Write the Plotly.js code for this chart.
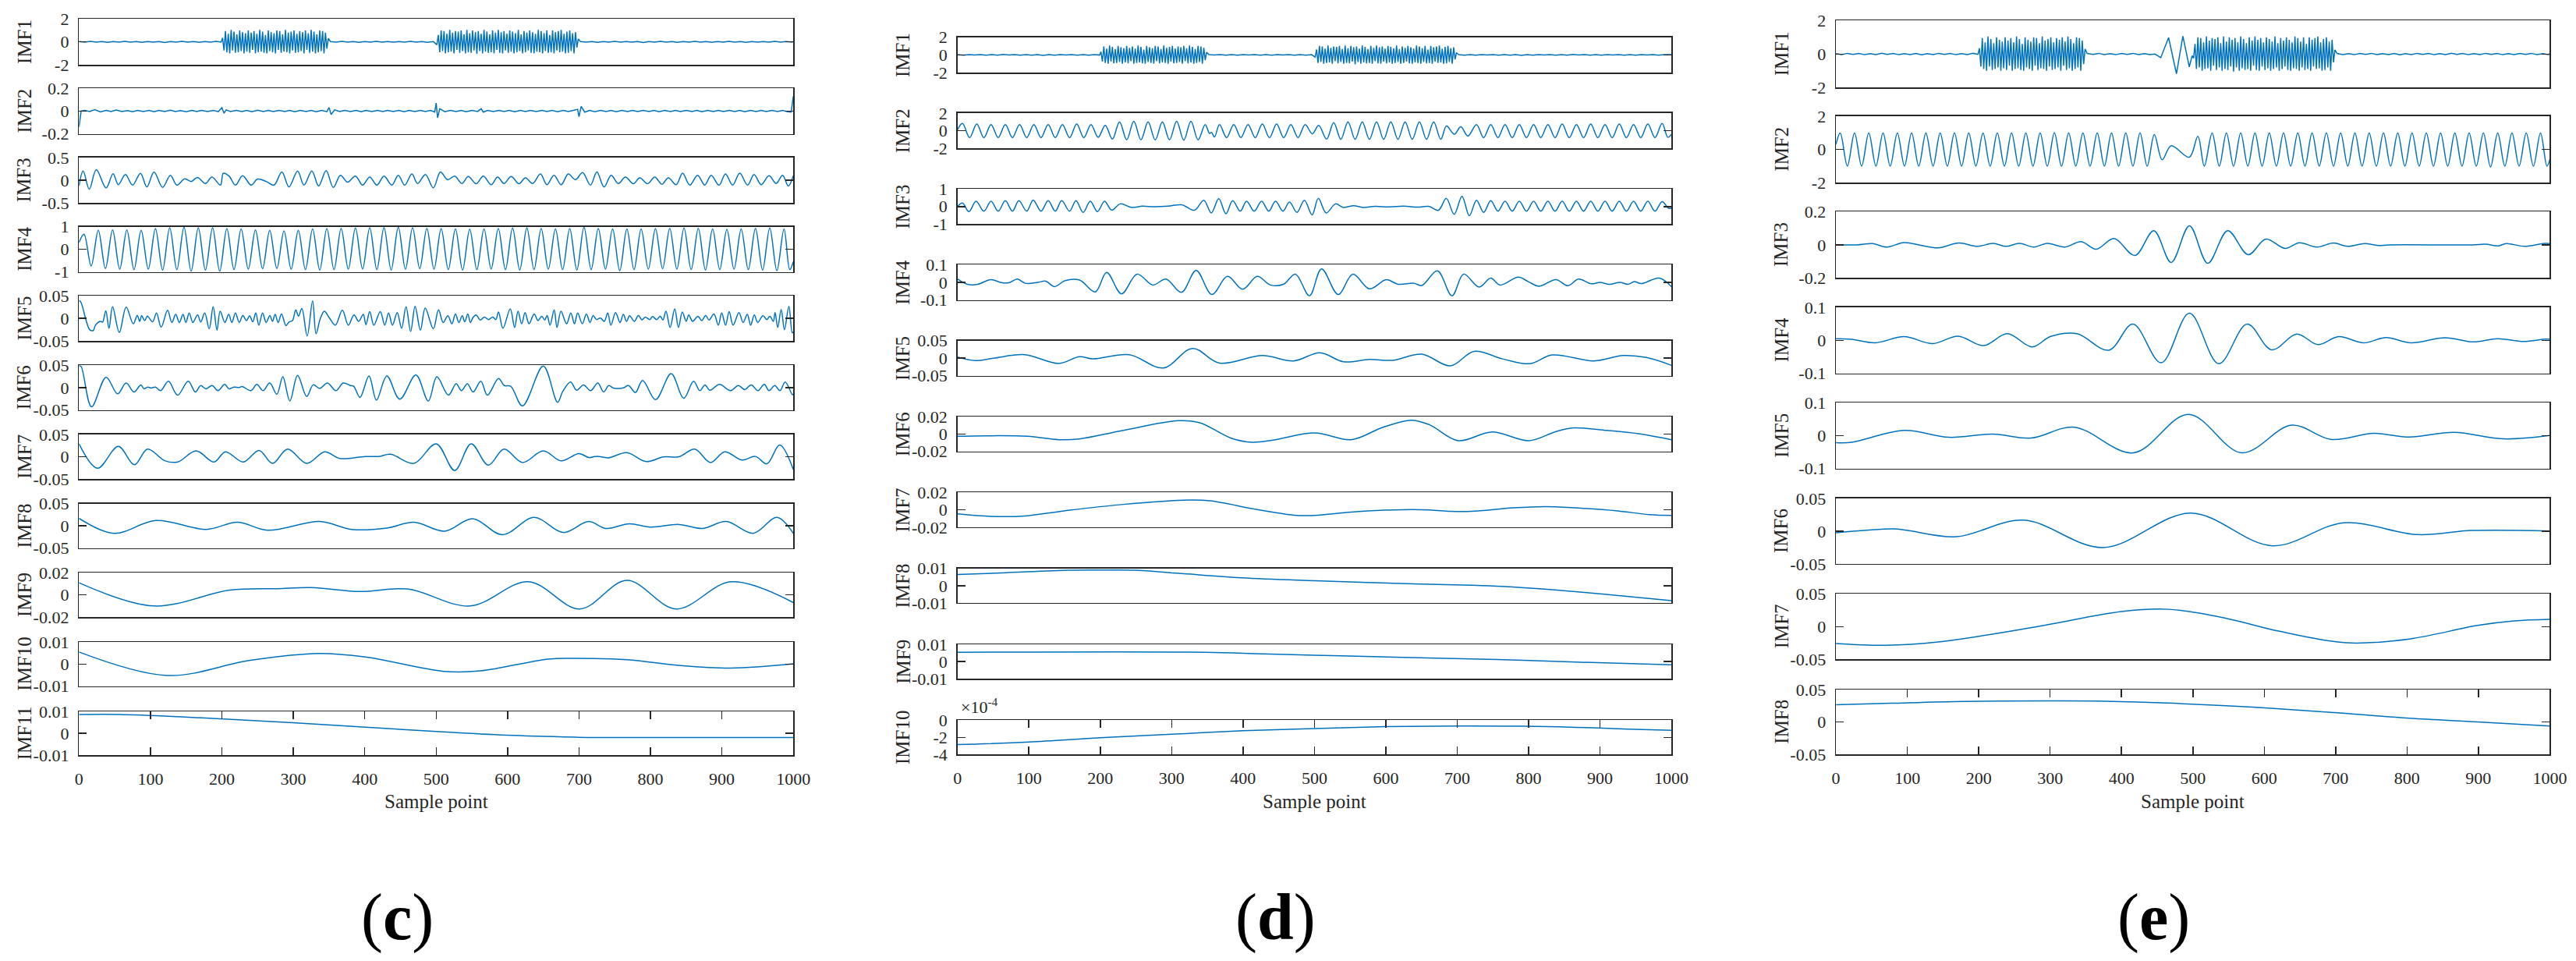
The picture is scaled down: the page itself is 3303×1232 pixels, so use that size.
<!DOCTYPE html>
<html>
<head>
<meta charset="utf-8">
<script src="https://cdn.plot.ly/plotly-3.0.1.min.js"></script>
<style>
html, body { margin: 0; padding: 0; background: #fff; }
#chart { width: 3303px; height: 1232px; }
</style>
</head>
<body>
<div id="chart"></div>
<script>
// all series are [sample point, value] pairs

// IMF1 pieces shared by (c), (d), (e): quiet stretches and the two bursts
var quiet1 = [[0,0.02],[8,-0.03],[16,0.04],[24,-0.02],[32,0.03],[40,-0.04],[48,0.02],[56,-0.03],[64,0.05],[72,-0.02],[80,0.03],[88,-0.04],[96,0.02],[104,-0.03],[112,0.03],[120,-0.05],[128,0.02],[136,-0.03],[144,0.04],[152,-0.02],[160,0.03],[168,-0.04],[176,0.02],[184,-0.03],[192,0.04],[199,-0.02]];
var burstA = [[201,0.35],[203,-0.75],[205,0.95],[207,-0.9],[209,0.7],[211,-1.0],[213,1.05],[215,-0.75],[217,0.9],[219,-0.95],[221,0.65],[223,-0.9],[225,1.0],[227,-0.8],[229,0.85],[231,-1.0],[233,0.75],[235,-0.85],[237,1.0],[239,-0.95],[241,0.8],[243,-0.7],[245,0.95],[247,-1.0],[249,0.7],[251,-0.9],[253,1.05],[255,-0.85],[257,0.9],[259,-0.95],[261,0.6],[263,-1.0],[265,1.0],[267,-0.8],[269,0.85],[271,-0.9],[273,0.75],[275,-1.0],[277,1.0],[279,-0.7],[281,0.95],[283,-0.95],[285,0.65],[287,-0.85],[289,1.05],[291,-0.9],[293,0.8],[295,-1.0],[297,0.9],[299,-0.75],[301,1.0],[303,-0.95],[305,0.7],[307,-0.9],[309,0.95],[311,-0.8],[313,0.85],[315,-1.0],[317,1.0],[319,-0.7],[321,0.75],[323,-0.95],[325,1.05],[327,-0.85],[329,0.9],[331,-1.0],[333,0.65],[335,-0.9],[337,1.0],[339,-0.8],[341,0.95],[343,-1.0],[345,0.8],[347,-0.6],[349,0.3]];
var quiet2 = [[352,0.03],[360,-0.02],[368,0.04],[376,-0.03],[384,0.02],[392,-0.04],[400,0.03],[408,-0.02],[416,0.04],[424,-0.03],[432,0.02],[440,-0.03],[448,0.03],[456,-0.02],[464,0.04],[472,-0.03],[480,0.02],[488,-0.04],[496,0.02]];
var burstB = [[501,-0.25],[503,0.6],[505,-0.9],[507,1.0],[509,-0.8],[511,0.95],[513,-1.0],[515,0.7],[517,-0.9],[519,1.05],
  [521,-0.85],[523,0.8],[525,-1.0],[527,0.95],[529,-0.7],[531,0.9],[533,-0.95],[535,1.0],[537,-0.8],[539,0.65],
  [541,-1.0],[543,1.05],[545,-0.9],[547,0.75],[549,-0.95],[551,1.0],[553,-0.75],[555,0.85],[557,-1.05],[559,0.95],
  [561,-0.8],[563,0.7],[565,-1.0],[567,1.05],[569,-0.85],[571,0.9],[573,-0.95],[575,0.65],[577,-0.9],[579,1.0],
  [581,-1.0],[583,0.8],[585,-0.7],[587,1.05],[589,-0.95],[591,0.85],[593,-1.0],[595,0.95],[597,-0.75],[599,0.7],
  [601,-0.95],[603,1.0],[605,-0.85],[607,0.9],[609,-1.0],[611,0.75],[613,-0.9],[615,1.05],[617,-0.8],[619,0.65],
  [621,-1.0],[623,0.95],[625,-0.9],[627,0.8],[629,-0.75],[631,1.0],[633,-0.95],[635,0.85],[637,-1.0],[639,0.7],
  [641,-0.85],[643,1.05],[645,-0.9],[647,0.95],[649,-1.0],[651,0.75],[653,-0.8],[655,1.0],[657,-0.95],[659,0.6],
  [661,-0.9],[663,1.0],[665,-1.0],[667,0.85],[669,-0.75],[671,0.95],[673,-0.9],[675,1.05],[677,-0.85],[679,0.7],
  [681,-1.0],[683,0.9],[685,-0.95],[687,1.0],[689,-0.8],[691,0.75],[693,-1.0],[695,0.85],[697,-0.5],[699,0.25]];
var quiet3 = [[702,0.03],[710,-0.03],[718,0.02],[726,-0.04],[734,0.03],[742,-0.02],[750,0.04],[758,-0.03],[766,0.02],[774,-0.03],[782,0.03],[790,-0.05],[798,0.02],[806,-0.03],[814,0.04],[822,-0.02],[830,0.03],[838,-0.04],[846,0.02],[854,-0.03],[862,0.05],[870,-0.02],[878,0.03],[886,-0.04],[894,0.02],[902,-0.03],[910,0.04],[918,-0.02],[926,0.03],[934,-0.04],[942,0.02],[950,-0.03],[958,0.03],[966,-0.02],[974,0.04],[982,-0.03],[990,0.02],[998,-0.03],[1000,0.02]];
// the slow wave just before the second burst in (e)
var waveE = [[447,0],[455,-0.22],[466,0.98],[477,-1.18],[486,1.07],[495,-0.77],[499,-0.1]];

// ---- panel (c) ----
var imf2c = [[0,-0.14],[3,0],[8,0.005],[15,-0.004],[22,0.012],[30,-0.008],[38,0.006],[45,-0.004],[52,0.008],[60,-0.005],[68,0.004],[75,-0.006],[82,0.006],[90,-0.004],[98,0.005],[105,-0.006],[112,0.006],[120,-0.004],[128,0.007],[135,-0.005],[142,0.004],[150,-0.006],[158,0.005],[165,-0.004],[172,0.006],[180,-0.005],[188,0.005],[195,-0.006],[200,0.03],[203,-0.02],[206,0.01],[212,-0.005],[220,0.006],[228,-0.004],[235,0.005],[242,-0.006],[250,0.007],[258,-0.004],[265,0.005],[272,-0.005],[280,0.006],[288,-0.004],[295,0.005],[302,-0.006],[310,0.006],[318,-0.004],[325,0.005],[332,-0.006],[340,0.006],[347,-0.006],[350,0.03],[353,-0.03],[358,0.01],[365,-0.005],[372,0.006],[380,-0.004],[388,0.005],[395,-0.006],[402,0.006],[410,-0.004],[418,0.005],[425,-0.005],[432,0.006],[440,-0.004],[448,0.005],[455,-0.006],[462,0.005],[470,-0.004],[478,0.006],[485,-0.005],[492,0.005],[498,-0.01],[500,0.07],[502,-0.06],[505,0.02],[512,-0.006],[520,0.006],[528,-0.004],[535,0.005],[542,-0.006],[550,0.006],[558,-0.004],[563,0.02],[566,-0.01],[572,0.005],[580,-0.005],[588,0.006],[595,-0.004],[602,0.005],[610,-0.006],[618,0.006],[625,-0.004],[632,0.005],[640,-0.005],[648,0.006],[655,-0.004],[662,0.005],[670,-0.006],[678,0.006],[685,-0.004],[692,0.005],[698,0.015],[700,-0.05],[703,0.04],[708,-0.01],[715,0.005],[722,-0.006],[730,0.006],[738,-0.004],[745,0.005],[752,-0.006],[760,0.006],[768,-0.004],[775,0.005],[782,-0.005],[790,0.006],[798,-0.004],[805,0.005],[812,-0.006],[820,0.006],[828,-0.004],[835,0.005],[842,-0.005],[850,0.006],[858,-0.004],[865,0.005],[872,-0.006],[880,0.006],[888,-0.004],[895,0.005],[902,-0.005],[910,0.006],[918,-0.004],[925,0.005],[932,-0.006],[940,0.006],[948,-0.004],[955,0.005],[962,-0.005],[970,0.006],[978,-0.004],[985,0.005],[992,-0.006],[997,-0.01],[1000,0.13]];
var imf3c = [[0,-0.13],[5.8,0.2],[14.4,-0.2],[24.2,0.23],[37.9,-0.17],[47.7,0.14],[55,-0.1],[65,0.125],[75,-0.11],[86,0.15],[95,-0.15],[105,0.18],[117,-0.16],[128,0.108],[137,-0.11],[148,0.028],[157,-0.03],[166,0.057],[177,-0.074],[186,0.068],[198,-0.11],[202,0.15],[210,0.09],[219,-0.11],[229,0.097],[241,-0.11],[250,0.023],[262,-0.03],[273,-0.11],[284,0.18],[294,-0.15],[306,0.2],[315,-0.11],[326,0.2],[335.5,-0.13],[346,0.21],[356,-0.16],[366,0.108],[376,-0.045],[387,0.09],[397,-0.11],[407,0.068],[417,-0.11],[427,0.09],[438,-0.11],[447,0.108],[456,-0.11],[466,0.136],[474,-0.074],[485,0.125],[496,-0.17],[506,0.18],[516,0.01],[526,0.09],[536,-0.074],[545,0.08],[556,-0.08],[566,0.09],[577,-0.1],[586,0.068],[595,-0.074],[605,0.08],[616,-0.08],[625,0.05],[635,-0.074],[646,0.136],[655,-0.1],[665,0.108],[675,-0.1],[685,0.136],[695,0.01],[705,0.165],[716,-0.11],[725,0.18],[735,-0.15],[745,0.108],[755,-0.074],[765,0.068],[776,-0.08],[785,0.05],[796,-0.08],[806,0.068],[816,-0.09],[825,0.05],[836,-0.1],[845,0.153],[855,-0.11],[866,0.108],[876,-0.11],[885,0.108],[896,-0.11],[905,0.136],[915,-0.11],[925,0.153],[936,-0.11],[945,0.125],[955,-0.1],[966,0.097],[976,-0.074],[985,0.108],[993,-0.13],[1000,0.097]];
var imf4c = [[0,0.3],
  [7,0.67],[17,-0.74],[27,0.84],[37,-0.85],[47,0.86],[57,-0.88],[67,0.86],[77,-0.9],[87,0.84],[97,-0.88],
  [107,0.92],[117,-0.92],[127,0.95],[137,-0.9],[147,0.98],[157,-0.97],[167,0.95],[177,-0.92],[187,0.95],[197,-0.97],
  [207,0.92],[217,-0.9],[227,0.9],[237,-0.88],[247,0.86],[257,-0.86],[267,0.84],[277,-0.85],[287,0.81],[297,-0.88],
  [307,0.84],[317,-0.9],[327,0.9],[337,-0.92],[347,0.92],[357,-0.9],[367,0.93],[377,-0.88],[387,0.94],[397,-0.87],
  [407,0.95],[417,-0.9],[427,0.96],[437,-0.92],[447,0.98],[457,-0.88],[467,0.95],[477,-0.86],[487,0.93],[497,-0.88],
  [507,0.92],[517,-0.9],[527,0.9],[537,-0.92],[547,0.89],[557,-0.9],[567,0.9],[577,-0.88],[587,0.92],[597,-0.9],
  [607,0.94],[617,-0.92],[627,0.95],[637,-0.9],[647,0.92],[657,-0.88],[667,0.9],[677,-0.9],[687,0.92],[697,-0.92],
  [707,0.98],[717,-0.9],[727,0.92],[737,-0.88],[747,0.9],[757,-0.95],[767,0.9],[777,-0.9],[787,0.9],[797,-0.88],
  [807,0.92],[817,-0.86],[827,0.93],[837,-0.88],[847,0.94],[857,-0.9],[867,0.93],[877,-0.92],[887,0.9],[897,-0.9],
  [907,0.88],[917,-0.88],[927,0.9],[937,-0.9],[947,0.93],[957,-0.92],[967,0.94],[977,-0.95],[987,0.9],[995,-0.9],
  [1000,-0.55]];
var imf5c = [[0,0.039],[2,0.038],[15,-0.025],[20,-0.027],[23,-0.015],[29.5,-0.0065],[33,-0.008],[37.5,0.017],[42,-0.022],[47,0.026],[56.4,-0.031],[66,0.025],[76,-0.012],[81.5,0.0065],[85,-0.0065],[87.7,0.006],[92,-0.005],[95.7,0.005],[103,-0.0076],[108.5,0.012],[115,-0.0195],[124,0.018],[130,-0.009],[135.4,0.009],[140.5,-0.009],[145.6,0.009],[149.6,-0.009],[154.3,0.012],[159.4,-0.009],[166,0.0076],[170.4,-0.008],[176,0.012],[182.3,-0.023],[187.8,0.026],[193.2,-0.026],[197.6,0.016],[204.2,-0.009],[209.6,0.009],[214,-0.009],[219,0.012],[224.3,-0.009],[229.4,0.0065],[234.4,-0.005],[238.8,0.006],[243.2,-0.0076],[247.5,0.012],[251.8,-0.015],[257,0.012],[262,-0.009],[267.2,0.0065],[270.8,-0.0065],[274.6,0.009],[278.8,-0.009],[283.5,0.01],[289.7,-0.016],[294,-0.008],[298.8,-0.005],[303.5,0.019],[307.2,0.005],[312,0.022],[319.4,-0.039],[327,0.039],[331.9,-0.034],[337.7,-0.001],[343.5,0.016],[349.8,0.003],[358.8,-0.015],[368.7,0.018],[377,-0.015],[385,0.0076],[391.5,-0.0065],[398,0.009],[401.7,-0.014],[407,0.015],[412.8,-0.015],[421.8,0.015],[428,-0.015],[433.4,0.012],[438.8,-0.015],[445.5,0.013],[451.6,-0.022],[457.8,0.026],[464.3,-0.029],[470.5,0.027],[478,-0.026],[484.7,0.023],[496,-0.023],[503.3,0.019],[509.8,-0.009],[516.4,0.006],[522,-0.012],[527,0.01],[531.8,-0.009],[536.5,0.006],[540,-0.0076],[544.3,0.01],[548,-0.009],[551.6,0.002],[556,0.0076],[561.7,-0.0036],[567.5,0.0031],[573.3,-0.0025],[579.2,0.0031],[583.5,-0.0025],[587.3,0.014],[593.5,-0.022],[603.7,0.021],[609.8,-0.02],[614.6,0.016],[619.7,-0.012],[624.5,0.013],[630,-0.012],[637.2,0.01],[642.6,-0.0048],[647.8,0.0048],[652.1,-0.0036],[655.4,0.0065],[659.4,-0.015],[665.2,0.019],[669.2,-0.02],[674.7,0.016],[682.6,-0.012],[688.5,0.012],[693.6,-0.012],[698.1,0.012],[704.6,-0.012],[710.3,0.01],[715.4,-0.009],[719.8,0.0065],[724.5,-0.0025],[730,0.0009],[735.4,-0.0065],[740.2,0.012],[744.6,-0.015],[751.2,0.013],[757.4,-0.009],[762.1,0.009],[766.5,-0.0065],[770.8,0.006],[777.4,-0.0065],[783.2,0.0065],[788.3,-0.0036],[792.6,0.0031],[799.2,-0.0025],[802.8,0.0042],[808.6,-0.0025],[813.7,0.0048],[817.4,-0.0036],[821.7,0.016],[827.5,-0.02],[834,0.021],[839.2,-0.02],[844.6,0.014],[850,-0.0065],[853.6,0.0076],[859.1,-0.0065],[866.4,0.0048],[871.8,-0.0048],[877.3,0.0065],[882,-0.0036],[888.9,0.01],[895,-0.015],[899.7,0.012],[905.2,-0.015],[910.2,0.015],[915.7,-0.015],[923.9,0.013],[929.7,-0.009],[935.6,0.009],[940.3,-0.015],[945.4,0.0076],[950.2,-0.009],[957.5,0.006],[963,-0.0025],[967.3,0.0048],[971.9,-0.0065],[974.5,0.013],[978.2,-0.02],[983,0.02],[987.6,-0.025],[993.8,0.027],[998.5,-0.032],[1000,-0.03]];
var imf6c = [[0,0.049],[3,0.047],[17.5,-0.043],[38,0.023],[54,-0.014],[66,0.01],[77,-0.01],[86.6,0.006],[91,-0.003],[96,0.001],[101,-0.001],[107,0.001],[114.3,-0.007],[125.2,0.014],[138,-0.017],[152.9,0.014],[163,-0.01],[170.4,0.0045],[177.7,-0.003],[186.3,0.0045],[194.4,-0.007],[204,0.007],[210,-0.003],[216.8,0.001],[224,0],[228.5,0.0023],[240.6,-0.007],[249,0.007],[257.7,-0.007],[267,0.01],[277,-0.015],[285.3,0.024],[295.2,-0.03],[306,0.027],[318.8,-0.02],[327.9,0.006],[337,-0.002],[347.9,0.01],[359.6,-0.007],[369.8,0.01],[380,0.0045],[384.5,0.003],[393.4,-0.022],[406,0.026],[416.4,-0.028],[431,0.026],[449,-0.026],[471.7,0.028],[489,-0.03],[501,0.024],[517.1,-0.017],[528,0.0085],[535.4,-0.007],[543.7,0.0085],[551.7,-0.01],[562.6,0.014],[571.7,-0.017],[587.3,0.02],[595.3,0.0045],[604.4,0.003],[620.9,-0.041],[650,0.048],[670,-0.033],[677.3,-0.0085],[688.2,0.0125],[696.6,-0.006],[706.4,0.006],[716.2,-0.007],[726.4,0.01],[734.4,-0.01],[741.7,0.0045],[748,-0.001],[762,-0.0006],[769.3,0.0045],[779,-0.011],[789,0.016],[807.2,-0.027],[829,0.031],[846.5,-0.024],[860.4,0.014],[869.1,-0.007],[876.4,0.006],[883,-0.006],[896.7,0.007],[912,-0.007],[923,0.0045],[932,-0.0045],[941.2,0.006],[950.3,-0.007],[959.4,0.007],[966,-0.007],[974,0.0045],[981.3,-0.007],[988.6,0.0125],[998.8,-0.016],[1000,-0.014]];
var imf7c = [[0,0.029],[26,-0.026],[55,0.023],[77.5,-0.018],[96,0.017],[120,-0.009],[138,-0.012],[164,0.013],[189,-0.012],[205,0.011],[230,-0.012],[252,0.014],[271,-0.015],[292,0.017],[319,-0.015],[344,0.011],[365,-0.004],[401,0.0005],[420,0.0005],[436,0.0056],[469,-0.015],[500,0.029],[526,-0.031],[549,0.029],[573,-0.019],[595,0.017],[621,-0.013],[650,0.013],[675,-0.0094],[700,0.0069],[714,-0.002],[725,0.001],[741,-0.0025],[767,0.009],[794,-0.011],[818,-0.0006],[840,0],[862,0.017],[884,-0.013],[904,0.011],[928,-0.0075],[947,0.0006],[963,-0.016],[981,0.026],[1000,-0.029]];
var imf8c = [[0,0.017],[49,-0.017],[107.5,0.012],[178,-0.008],[222,0.008],[264,-0.01],[337,0.0097],[381,-0.008],[431,-0.005],[469,0.008],[512,-0.012],[551,0.016],[593,-0.02],[637,0.019],[678,-0.015],[713.5,0.0097],[738,-0.006],[770.5,0.0047],[800,-0.003],[840,0.003],[873,-0.006],[906,0.0097],[944,-0.017],[977,0.019],[1000,-0.017]];
var imf9c = [[0,0.011],[105,-0.01],[211,0.0044],[277,0.0057],[325,0.0067],[394,0.0031],[460,0.0054],[547.5,-0.01],[629,0.012],[701,-0.0127],[767,0.0132],[836,-0.0127],[913,0.012],[1000,-0.0069]];
var imf10c = [[0,0.0055],[123.5,-0.0052],[240,0.0017],[335,0.0048],[401,0.0032],[511,-0.0033],[562,-0.0031],[657,0.0023],[694,0.0026],[767,0.002],[840,-0.0006],[913,-0.0018],[1000,0.0001]];
var imf11c = [[0,0.0086],[58,0.0086],[138,0.0076],[299,0.0048],[401,0.0028],[500,0.0008],[599,-0.0009],[694,-0.0018],[730,-0.002],[1000,-0.002]];

// ---- panel (d) ----
var imf2d = [[0,0.1],[7,0.81],[17,-0.78],[27,0.75],[37,-0.78],[47,0.69],[57,-0.78],[67,0.69],[77,-0.78],[87,0.69],[97,-0.78],[107,0.69],[117,-0.78],[127,0.69],[137,-0.78],[147,0.69],[157,-0.78],[167,0.75],[177,-0.78],[187,0.69],[197,-0.75],[207,0.6],[217,-0.95],[227,1.0],[237,-1.03],[247,1.06],[257,-1.03],[267,1.0],[277,-1.06],[287,1.0],[297,-1.03],[307,1.06],[317,-1.06],[327,1.06],[337,-1.03],[347,0.69],[353,-0.3],[356,-0.2],[360,-0.72],[367,0.69],[377,-0.78],[387,0.69],[397,-0.78],[407,0.69],[417,-0.78],[427,0.75],[437,-0.78],[447,0.75],[457,-0.78],[467,0.69],[477,-0.78],[487,0.69],[497,-0.34],[506,0.59],[517,-0.95],[527,0.91],[537,-0.97],[547,1.0],[557,-0.97],[567,1.0],[577,-0.97],[587,1.0],[597,-0.97],[607,1.0],[617,-0.97],[627,1.0],[637,-0.97],[647,1.0],[657,-0.97],[667,1.0],[677,-0.97],[685,0.53],[696,-0.4],[705,0.44],[715,-0.6],[727,0.69],[737,-0.78],[747,0.69],[757,-0.78],[767,0.69],[777,-0.78],[787,0.69],[797,-0.78],[807,0.69],[817,-0.78],[827,0.69],[837,-0.78],[847,0.75],[857,-0.78],[867,0.69],[877,-0.78],[887,0.75],[897,-0.78],[907,0.69],[917,-0.78],[927,0.75],[937,-0.78],[947,0.69],[957,-0.78],[967,0.75],[977,-0.78],[987,0.81],[995,-0.75],[1000,-0.4]];
var imf3d = [[0,0],[7,0.2],[16,-0.29],[26,0.3],[37,-0.26],[47,0.3],[57,-0.26],[67,0.33],[77,-0.26],[86,0.33],[97,-0.26],[106,0.37],[117,-0.26],[127,0.33],[137,-0.26],[146,0.33],[157,-0.26],[166,0.33],[176,-0.33],[186,0.3],[196,-0.29],[206,0.3],[216,-0.2],[228,0.15],[244,-0.05],[259,0.02],[275,-0.01],[295,0.02],[314,0.1],[332,-0.21],[345,0.36],[355.5,-0.36],[366,0.44],[376,-0.41],[385.5,0.33],[396,-0.26],[405,0.3],[415.5,-0.26],[426,0.3],[436,-0.26],[445.5,0.3],[456,-0.26],[465,0.26],[475.5,-0.33],[486,0.36],[496.7,-0.47],[505.5,0.46],[516.5,-0.36],[529.6,0.15],[540.6,-0.05],[555,0.05],[568,-0.05],[585,0.01],[605,-0.02],[625,0.02],[645,-0.03],[660,0.01],[673.7,-0.21],[684.7,0.46],[695.7,-0.44],[706.7,0.57],[717,-0.52],[727,0.36],[737,-0.33],[747,0.33],[757,-0.26],[767,0.3],[777,-0.26],[787,0.3],[797,-0.26],[807,0.3],[817,-0.26],[827,0.3],[837,-0.26],[847,0.3],[857,-0.26],[867,0.3],[877,-0.26],[887,0.3],[897,-0.26],[907,0.3],[917,-0.26],[927,0.3],[937,-0.26],[947,0.3],[957,-0.26],[967,0.3],[977,-0.26],[987,0.28],[996,-0.1],[1000,-0.1]];
var imf4d = [[0,0.019],[14,-0.011],[28.5,-0.011],[46.8,0.016],[61.4,-0.001],[72,-0.002],[84,0.019],[95,-0.005],[112.7,0],[123.6,0.007],[136,-0.024],[150.7,0.01],[171,0.013],[193,-0.054],[209,0.057],[229.7,-0.065],[251.6,0.047],[273.6,-0.015],[292,0.019],[313.8,-0.057],[334.3,0.068],[356.3,-0.069],[378.2,0.034],[399.4,-0.039],[420,0.034],[438.2,-0.015],[456.5,-0.011],[473.3,0.047],[493,-0.076],[510,0.077],[533.3,-0.069],[553.8,0.047],[577.2,-0.037],[600.6,0.015],[617.4,-0.011],[639.4,-0.005],[650.3,-0.018],[672.3,0.065],[692.7,-0.076],[708.9,0.047],[730.8,-0.027],[746.9,0.024],[760,-0.015],[785.7,0.03],[800,0.003],[815,-0.022],[838.3,0.016],[855.2,-0.019],[869.8,0.019],[888,-0.008],[900,0],[913,-0.011],[928,0],[939,-0.011],[948,0.004],[958,-0.007],[983,0.024],[1000,-0.024]];
var imf5d = [[0,0.0036],[24.9,-0.0068],[50.5,0],[94.4,0.01],[142,-0.015],[171,0.0044],[189.5,-0.002],[240.7,0.01],[288.2,-0.028],[329.2,0.028],[367.2,-0.014],[427.2,0.0076],[471,-0.0076],[507.7,0.0156],[540.6,-0.01],[577.2,-0.0036],[610,-0.006],[650.3,0.0116],[690.6,-0.022],[723.5,0.0196],[763.7,-0.002],[801.8,-0.0156],[833.2,0.0092],[891.7,-0.0076],[932,0.0076],[965,0.002],[1000,-0.0204]];
var imf6d = [[0,-0.0026],[39.5,-0.002],[98,-0.0026],[142,-0.0065],[171,-0.0056],[229.7,0.0038],[310,0.0153],[339.4,0.013],[383.3,-0.0047],[412.6,-0.0094],[441.8,-0.007],[500.4,0.0012],[551.6,-0.0065],[595.5,0.0076],[635.7,0.0159],[661.3,0.0106],[701.5,-0.0076],[749,0.0024],[800.3,-0.0076],[836.9,0.0024],[862.5,0.0071],[910,0.0041],[954,0.0003],[1000,-0.0065]];
var imf7d = [[0,-0.0046],[46.8,-0.0075],[94.4,-0.007],[149.2,-0.0012],[229.7,0.0061],[324.8,0.0113],[354,0.0104],[420,0.0003],[471,-0.0061],[500.4,-0.0064],[551.6,-0.0026],[610,0],[661.3,0],[690.6,-0.0017],[719.8,-0.0017],[778.3,0.0023],[822.2,0.0038],[866.1,0.0023],[924.7,-0.0012],[968.6,-0.0055],[1000,-0.0064]];
var imf8d = [[0,0.0065],[61.4,0.0074],[156.5,0.009],[207.8,0.0091],[248,0.009],[310,0.0072],[398,0.0046],[500.4,0.0029],[610,0.0014],[719.8,0.0003],[763.7,-0.0004],[829.6,-0.0022],[902.7,-0.0048],[1000,-0.0087]];
var imf9d = [[0,0.0054],[346.7,0.0054],[427.2,0.0045],[537,0.0033],[646.7,0.0022],[756.4,0.0012],[866.1,-0.0003],[1000,-0.0019]];
// IMF10 of (d) in units of 1e-4
var imf10d = [[0,-2.85],[100,-2.55],[200,-2.05],[300,-1.64],[400,-1.23],[500,-0.97],[600,-0.75],[700,-0.67],[793,-0.7],[866,-0.82],[939,-1.03],[1000,-1.18]];

// ---- panel (e) ----
var imf2e = [[0,0.3],[6,0.99],[16,-1.0],[26,0.99],[36,-1.0],[46,0.99],[56,-1.0],[66,0.99],[76,-1.0],[86,0.99],[96,-1.0],[106,0.99],[116,-1.0],[126,0.99],[136,-1.0],[146,0.99],[156,-1.0],[166,0.99],[176,-1.0],[186,0.99],[196,-1.0],[206,0.99],[216,-1.0],[226,0.99],[236,-1.0],[246,0.99],[256,-1.0],[266,0.99],[276,-1.0],[286,0.99],[296,-1.0],[306,1.0],[316,-1.0],[326,0.99],[336,-1.0],[346,0.99],[356,-1.0],[366,0.99],[376,-1.0],[386,0.99],[396,-1.0],[406,0.99],[416,-1.0],[426,0.99],[436,-1.0],[446,0.89],[457,-0.62],[469.5,0.22],[495,-0.47],[507,0.79],[516,-1.0],[527,0.99],[537,-1.0],[547,0.99],[557,-1.0],[567,0.99],[577,-1.0],[587,0.99],[597,-1.0],[607,0.99],[617,-1.0],[627,0.99],[637,-1.0],[647,0.99],[657,-1.0],[667,0.99],[677,-1.0],[687,0.99],[697,-1.0],[707,0.99],[717,-1.0],[727,0.99],[737,-1.0],[747,0.99],[757,-1.0],[767,0.99],[777,-1.0],[787,0.99],[797,-1.0],[807,0.99],[817,-1.0],[827,0.99],[837,-1.0],[847,0.99],[857,-1.0],[867,0.99],[877,-1.0],[887,0.99],[897,-1.0],[907,0.99],[917,-1.05],[927,0.99],[937,-1.0],[947,0.99],[957,-1.0],[967,0.99],[977,-1.0],[987,0.99],[996,-1.0],[1000,-0.6]];
var imf3e = [[0,0],[29.3,0],[51.4,0.008],[71.2,-0.013],[95.4,0.014],[120,-0.004],[143,-0.018],[172.4,0.011],[198,-0.009],[220,0.009],[238.4,-0.009],[256.8,0.009],[277.3,-0.013],[295.7,0.009],[320.6,-0.013],[343.4,0.02],[364.6,-0.026],[389.6,0.038],[418.9,-0.064],[445.3,0.086],[469.6,-0.106],[495.2,0.115],[520.9,-0.111],[548.8,0.086],[577.4,-0.059],[602.3,0.035],[628.8,-0.021],[649.3,0.013],[673.5,-0.013],[697,0.011],[716.8,-0.009],[741,0.008],[759.4,-0.004],[775,0],[891.4,0],[910,0.004],[928,-0.006],[939,0.008],[964.8,-0.009],[990.5,0.008],[1000,0.008]];
var imf4e = [[0,0.005],[22,0.003],[55,-0.0076],[95.4,0.011],[135.7,-0.01],[171,0.0126],[207,-0.016],[240,0.02],[275,-0.02],[300.8,0.0118],[337.5,0.02],[382.2,-0.03],[416,0.049],[455.6,-0.068],[495.2,0.082],[536.3,-0.071],[576,0.049],[610.4,-0.029],[645.6,0.019],[675,-0.013],[704.3,0.011],[739.5,-0.0076],[770.4,0.0084],[805.6,-0.0076],[853.3,0.0076],[892.9,-0.005],[926.6,0.005],[963.3,-0.0034],[992.7,0.0034],[1000,0.0034]];
var imf5e = [[0,-0.021],[22,-0.02],[95.4,0.016],[157.7,-0.0048],[220,0.0048],[273.7,-0.0071],[333.8,0.026],[416.7,-0.052],[493.8,0.065],[568.6,-0.052],[638.3,0.032],[693.3,-0.011],[753.5,0.0071],[803.4,-0.004],[865.7,0.0103],[935.4,-0.0095],[1000,0.0008]];
var imf6e = [[0,-0.0026],[80.7,0.0034],[99,0.0014],[168.7,-0.0085],[262.7,0.0168],[374.2,-0.0251],[496.7,0.0275],[611.2,-0.0223],[711.7,0.0128],[814.4,-0.0053],[891.4,0.001],[1000,0.0002]];
var imf7e = [[0,-0.026],[69.7,-0.0288],[143,-0.0237],[282.5,0],[399.9,0.023],[466,0.0265],[546.6,0.0127],[620,-0.0069],[715.3,-0.0249],[803.4,-0.019],[898.7,0.0018],[950,0.0088],[1000,0.0112]];
var imf8e = [[0,0.0265],[77,0.0289],[179.7,0.0317],[297,0.0325],[377.8,0.0321],[473.2,0.0289],[583.3,0.0229],[693.3,0.0149],[803.4,0.0058],[898.7,0.0002],[1000,-0.0062]];

var imf1c = quiet1.concat(burstA, quiet2, burstB, quiet3);
var imf1d = quiet1.concat(burstA, quiet2, burstB, quiet3);
var imf1e = quiet1.concat(burstA, quiet2.filter(function (p) { return p[0] < 445; }), waveE, burstB, quiet3);

var xTicks = [0, 100, 200, 300, 400, 500, 600, 700, 800, 900, 1000];

// ---- layout (pixel positions of each panel's boxes) ----
var W = 3303, H = 1232;
var serif = '"Liberation Serif", "Times New Roman", Times, serif';
var ink = '#262626';
var blue = '#0072BD';

var panels = [
	{ tag: 'c', left: 101.3, right: 1017.2, top0: 24.3, bot0: 83, topN: 912, botN: 968,
	  series: [
		{ d: imf1c, lim: 2, shape: 'linear' }, { d: imf2c, lim: 0.2, shape: 'linear' },
		{ d: imf3c, lim: 0.5 }, { d: imf4c, lim: 1 }, { d: imf5c, lim: 0.05 },
		{ d: imf6c, lim: 0.05 }, { d: imf7c, lim: 0.05 }, { d: imf8c, lim: 0.05 },
		{ d: imf9c, lim: 0.02 }, { d: imf10c, lim: 0.01 }, { d: imf11c, lim: 0.01 } ] },
	{ tag: 'd', left: 1227.7, right: 2143.1, top0: 47.5, bot0: 93.2, topN: 923.4, botN: 967.2,
	  series: [
		{ d: imf1d, lim: 2, shape: 'linear' }, { d: imf2d, lim: 2 }, { d: imf3d, lim: 1 },
		{ d: imf4d, lim: 0.1 }, { d: imf5d, lim: 0.05 }, { d: imf6d, lim: 0.02 },
		{ d: imf7d, lim: 0.02 }, { d: imf8d, lim: 0.01 }, { d: imf9d, lim: 0.01 },
		{ d: imf10d, range: [-4, 0], ticks: [-4, -2, 0], exp: true } ] },
	{ tag: 'e', left: 2354.1, right: 3269.4, top0: 26.4, bot0: 112.1, topN: 884, botN: 967.2,
	  series: [
		{ d: imf1e, lim: 2, shape: 'linear' }, { d: imf2e, lim: 2 }, { d: imf3e, lim: 0.2 },
		{ d: imf4e, lim: 0.1 }, { d: imf5e, lim: 0.1 }, { d: imf6e, lim: 0.05 },
		{ d: imf7e, lim: 0.05 }, { d: imf8e, lim: 0.05 } ] }
];

var traces = [];
var layout = {
	width: W, height: H,
	margin: { l: 0, r: 0, t: 0, b: 0 },
	paper_bgcolor: '#fff', plot_bgcolor: '#fff',
	showlegend: false,
	font: { family: serif, size: 22, color: ink },
	annotations: []
};

var n = 0;
panels.forEach(function (p) {
	var count = p.series.length;
	p.series.forEach(function (s, k) {
		n++;
		var ax = n === 1 ? '' : String(n);
		var top = p.top0 + (p.topN - p.top0) * k / (count - 1);
		var bot = p.bot0 + (p.botN - p.bot0) * k / (count - 1);
		var last = k === count - 1;
		var yv = s.ticks || [-s.lim, 0, s.lim];

		traces.push({
			type: 'scatter', mode: 'lines',
			x: s.d.map(function (q) { return q[0]; }),
			y: s.d.map(function (q) { return q[1]; }),
			xaxis: 'x' + ax, yaxis: 'y' + ax,
			line: { color: blue, width: 1.5, shape: s.shape || 'spline', smoothing: 1 },
			hoverinfo: 'skip'
		});

		layout['xaxis' + ax] = {
			domain: [p.left / W, p.right / W], anchor: 'y' + ax,
			range: [0, 1000], fixedrange: true,
			showline: true, linecolor: ink, linewidth: 1.5,
			mirror: last ? 'ticks' : true,
			ticks: last ? 'inside' : '', ticklen: 10, tickwidth: 1.5, tickcolor: ink,
			tickvals: xTicks, ticktext: xTicks.map(String),
			showticklabels: last, ticklabelstandoff: 10,
			tickfont: { family: serif, size: 22, color: ink },
			showgrid: false, zeroline: false
		};
		layout['yaxis' + ax] = {
			domain: [1 - bot / H, 1 - top / H], anchor: 'x' + ax,
			range: s.range || [-s.lim, s.lim], fixedrange: true,
			showline: true, linecolor: ink, linewidth: 1.5, mirror: 'ticks',
			ticks: 'inside', ticklen: 10, tickwidth: 1.5, tickcolor: ink,
			tickvals: yv, ticktext: yv.map(String), ticklabelstandoff: 7,
			tickfont: { family: serif, size: 22, color: ink },
			showgrid: false, zeroline: false
		};

		layout.annotations.push({
			xref: 'paper', yref: 'paper',
			x: (p.left - 70) / W, y: 1 - (top + bot) / 2 / H,
			text: 'IMF' + (k + 1), textangle: -90, showarrow: false,
			xanchor: 'center', yanchor: 'middle',
			font: { family: serif, size: 25, color: ink }
		});
		if (s.exp) {
			layout.annotations.push({
				xref: 'paper', yref: 'paper',
				x: (p.left + 2) / W, y: 1 - (top - 2) / H,
				text: '×10<sup>-4</sup>', showarrow: false,
				xanchor: 'left', yanchor: 'bottom',
				font: { family: serif, size: 22, color: ink }
			});
		}
	});

	var mid = (p.left + p.right) / 2;
	layout.annotations.push({
		xref: 'paper', yref: 'paper', x: mid / W, y: 1 - 1027 / H,
		text: 'Sample point', showarrow: false, xanchor: 'center', yanchor: 'middle',
		font: { family: serif, size: 25, color: ink }
	});
	layout.annotations.push({
		xref: 'paper', yref: 'paper', x: (mid - 50) / W, y: 1 - 1176 / H,
		text: '(<b>' + p.tag + '</b>)', showarrow: false, xanchor: 'center', yanchor: 'middle',
		font: { family: serif, size: 84, color: '#000' }
	});
});

Plotly.newPlot('chart', traces, layout, { displayModeBar: false, staticPlot: true });
</script>
</body>
</html>
